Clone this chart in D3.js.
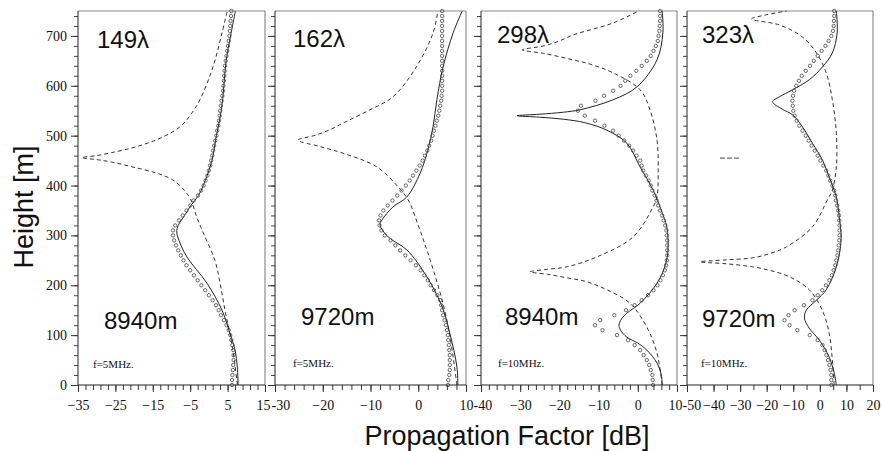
<!DOCTYPE html>
<html><head><meta charset="utf-8">
<script src="https://cdn.jsdelivr.net/npm/d3@7"></script>
<style>body{margin:0;background:#fff}svg{display:block}</style>
</head><body><svg id="c" width="882" height="451"></svg>
<script>
// ---------- DATA ----------
const panelTitles = ["149λ", "162λ", "298λ", "323λ"];
const rangeLabels = ["8940m", "9720m", "8940m", "9720m"];
const freqLabels = ["f=5MHz.", "f=5MHz.", "f=10MHz.", "f=10MHz."];
const xDomains = [[-35, 15], [-30, 10], [-40, 10], [-50, 20]];
const xTickLabels = [
  [-35, -25, -15, -5, 5, 15],
  [-30, -20, -10, 0, 10],
  [-40, -30, -20, -10, 0, 10],
  [-50, -40, -30, -20, -10, 0, 10, 20]
];
const xMinorStep = [2, 2, 2, 5];
const yTickLabels = [0, 100, 200, 300, 400, 500, 600, 700];
const yMinorStep = 20;
const heightMax = 750;

// [height m, propagation factor dB]
const p1Solid = [[0,7.8],[36,7.6],[70,7.0],[104,5.6],[150,3.5],[204,-0.5],[257,-5.9],[290,-8.0],[307,-8.6],[320,-8.2],[340,-6.5],[360,-4.8],[380,-2.8],[400,-1.5],[450,0.8],[500,2.0],[550,3.3],[600,4.0],[650,4.6],[700,5.8],[750,7.1]];
const p1Dashed = [[0,7.6],[50,6.8],[104,5.6],[150,4.3],[204,3.0],[250,1.6],[305,-1.5],[338,-3.3],[371,-4.8],[390,-6.5],[411,-9.6],[425,-14],[437,-20.3],[447,-26],[452,-30],[456,-34],[460,-30],[466,-26],[477,-19.8],[495,-13],[518,-7.7],[545,-4.6],[572,-2.4],[638,1.1],[706,3.5],[750,4.9]];
const p1Circles = [6.2,6.2,6.3,6.4,6.5,6.6,6.6,6.5,6.3,6.0,5.7,5.3,4.7,4.0,3.2,2.6,1.9,1.0,0.0,-1.0,-2.0,-3.0,-4.0,-5.0,-6.0,-6.8,-7.5,-8.2,-8.8,-9.3,-9.6,-9.6,-9.0,-8.0,-7.0,-6.0,-5.0,-4.1,-2.9,-2.1,-1.4,-0.9,-0.4,0.0,0.3,0.6,0.9,1.1,1.4,1.7,2.0,2.2,2.5,2.7,2.9,3.0,3.2,3.4,3.6,3.8,3.9,4.0,4.1,4.2,4.3,4.5,4.7,4.9,5.1,5.3,5.5,5.6,5.7,5.8,5.9,6.0];

const p2Solid = [[0,8.3],[36,8.1],[104,6.6],[157,5.0],[217,1.8],[271,-2.4],[297,-6.3],[321,-8.0],[331,-7.6],[357,-5.3],[377,-2.4],[425,0.4],[471,2.0],[518,3.1],[572,3.9],[638,5.2],[706,7.3],[750,9.2]];
const p2Dashed = [[0,8.1],[36,7.6],[70,7.1],[120,6.2],[170,5.0],[220,3.5],[271,1.8],[320,0.0],[371,-2.1],[397,-4.2],[437,-8.6],[465,-15.8],[478,-20.5],[491,-25.2],[501,-21.5],[512,-18.5],[525,-15.8],[550,-10.5],[578,-5.3],[638,-0.4],[706,3.1],[750,4.1]];
const p2Circles = [6.2,6.3,6.5,6.6,6.6,6.6,6.6,6.5,6.4,6.3,6.2,6.0,5.8,5.5,5.2,5.0,4.8,4.6,4.0,3.3,2.6,2.0,1.3,0.5,-0.5,-1.6,-2.7,-3.8,-4.8,-5.8,-7.0,-7.7,-8.1,-8.2,-7.9,-7.3,-6.4,-5.4,-4.4,-3.5,-2.6,-1.8,-1.1,-0.4,0.3,0.9,1.4,1.9,2.3,2.7,3.0,3.3,3.6,3.9,4.2,4.4,4.6,4.8,4.9,5.0,5.0,5.0,5.0,5.0,5.0,5.0,5.0,5.0,5.0,5.0,5.0,5.0,5.0,5.0,5.0,5.0];

const p3Solid = [[0,6.2],[20,6.0],[44,4.9],[70,2.3],[84,0],[96,-2.8],[110,-4.4],[120,-4.8],[132,-4.2],[144,-2.8],[164,0.6],[204,4.9],[240,7.0],[271,7.7],[317,7.4],[350,6.0],[391,3.9],[437,0.6],[485,-2.8],[511,-7.9],[526,-13.5],[533,-19],[537,-25],[540,-30.8],[543,-25],[547,-19],[552,-14.7],[572,-6.3],[598,-0.2],[652,4.9],[706,6.4],[750,6.2]];
const p3Dashed = [[0,6.2],[64,4.9],[116,2.3],[164,-2.0],[191,-7.9],[207,-13],[215,-18.1],[222,-23],[227,-27.5],[232,-23],[237,-18.1],[257,-10.4],[297,-1.2],[357,3.9],[377,4.9],[425,5.2],[491,4.9],[552,3.1],[592,0.6],[626,-6.3],[643,-12],[652,-16.5],[665,-24],[672,-29.5],[680,-24],[690,-20],[702,-16.5],[726,-6.3],[750,0.2]];
const p3Circles = [3.9,3.8,3.7,3.3,2.9,2.3,1.5,0.6,-0.8,-2.5,-5.3,-9.0,-10.9,-9.6,-6.0,-3.0,-0.8,1.0,2.6,4.0,5.0,5.8,6.4,6.9,7.2,7.4,7.5,7.5,7.5,7.5,7.4,7.3,7.0,6.6,6.2,5.7,5.2,4.8,4.3,3.7,3.3,2.8,2.1,1.4,1.0,0.6,-0.3,-1.2,-2.2,-3.5,-4.9,-6.3,-8.5,-10.9,-13.5,-15.3,-14.5,-10.8,-8.6,-6.3,-4.4,-3.2,-1.9,-0.4,1.0,2.3,3.3,4.0,4.6,5.1,5.3,5.5,5.6,5.7,5.7,5.7];

const p4Solid = [[0,6.2],[24,5.4],[56,3.5],[90,-0.2],[114,-4.0],[134,-5.8],[150,-5.1],[170,-1.3],[191,2.4],[237,6.2],[291,8.0],[337,7.3],[377,6.2],[417,3.5],[451,1.0],[485,-2.8],[518,-6.6],[542,-10.3],[553,-14.1],[568,-17.8],[578,-15.2],[592,-10.3],[612,-4.0],[638,1.0],[666,4.7],[706,6.5],[750,6.2]];
const p4Dashed = [[0,5.4],[50,4.7],[104,3.5],[150,0.9],[191,-4.0],[217,-11.4],[230,-19],[237,-25.3],[243,-35],[247,-45.1],[251,-35],[255,-25.3],[265,-18],[277,-12.6],[317,-2.8],[371,2.8],[391,4.7],[437,6.2],[505,6.2],[572,4.7],[626,2.4],[666,-1.3],[698,-6.6],[722,-15.2],[734,-25.7],[742,-20.5],[750,-12.5]];
const p4Circles = [4.3,4.3,4.3,4.0,3.6,3.1,2.5,1.8,1.0,-0.8,-3.8,-8.5,-11.4,-13.3,-11.8,-9.5,-6.0,-2.8,-0.8,0.9,2.3,3.6,4.5,5.2,5.8,6.2,6.6,6.9,7.1,7.3,7.4,7.4,7.4,7.3,7.2,6.9,6.5,6.1,5.8,5.4,4.7,3.9,3.2,2.4,1.3,0.2,-0.8,-1.9,-3.1,-4.2,-5.3,-6.5,-7.7,-8.7,-9.5,-10.0,-10.2,-10.3,-10.1,-9.7,-8.9,-7.9,-6.8,-5.3,-3.7,-2.3,-0.8,0.7,2.1,3.3,4.3,4.9,5.2,5.3,5.4,5.4];
const p4StrayDash = [[455,-37.6],[455,-30.2]];

const circleStep = 10; // circles sampled every 10 m of height

// ---------- LAYOUT ----------
const W = 882, H = 451;
const yTop = 11, yBottom = 385;
const panelX = [[78, 265], [275, 466], [481, 677], [687, 873]];
const titlePos = [[19, 48], [18, 47], [16, 43], [15, 43]];
const rangePos = [[26, 329], [26, 325], [24, 325], [15, 327]];
const freqPos = [[15, 368], [18, 367], [17, 367], [14, 367]];
// boundary tick labels: [first label start-x offset, last label end-x offset] (null = centred)
const edgeLabel = [[null, 5], [-4, 7], [-8, 5], [-5, null]];

const solids = [p1Solid, p2Solid, p3Solid, p4Solid];
const dashes = [p1Dashed, p2Dashed, p3Dashed, p4Dashed];
const circles = [p1Circles, p2Circles, p3Circles, p4Circles];

const svg = d3.select("#c");
const y = d3.scaleLinear().domain([0, heightMax]).range([yBottom, yTop]);
const serif = "'Liberation Serif','Times New Roman',serif";
const sans = "'Liberation Sans',Arial,sans-serif";

panelX.forEach((px, i) => {
  const x = d3.scaleLinear().domain(xDomains[i]).range(px);
  const g = svg.append("g");

  // frame (top and right)
  g.append("line").attr("x1", px[0]).attr("x2", px[1]).attr("y1", yTop).attr("y2", yTop)
    .attr("stroke", "#888").attr("stroke-width", 1);
  g.append("line").attr("x1", px[1]).attr("x2", px[1]).attr("y1", yTop).attr("y2", yBottom)
    .attr("stroke", "#777").attr("stroke-width", 1);

  // x axis: minor ticks
  const minor = d3.range(xDomains[i][0], xDomains[i][1] + 1e-9, xMinorStep[i]);
  g.append("g").attr("transform", `translate(0,${yBottom})`)
    .call(d3.axisBottom(x).tickValues(minor).tickSize(5).tickFormat(""))
    .call(s => s.select(".domain").remove())
    .call(s => s.selectAll("line").attr("stroke", "#333"));
  const labs = xTickLabels[i];
  const xAxis = d3.axisBottom(x).tickValues(labs).tickSize(7).tickPadding(8)
    .tickFormat(d => d < 0 ? "\u2212" + Math.abs(d) : String(d));
  const xa = g.append("g").attr("transform", `translate(0,${yBottom})`).call(xAxis)
    .call(s => s.select(".domain").attr("stroke", "#222").attr("d", `M${px[0]},0H${px[1]}`))
    .call(s => s.selectAll("line").attr("stroke", "#333"))
    .call(s => s.selectAll("text").attr("font-family", serif).attr("font-size", 14).attr("fill", "#111"));
  // squeeze labels at shared panel boundaries
  xa.selectAll(".tick text").each(function(d) {
    const t = d3.select(this);
    if (d === labs[0] && edgeLabel[i][0] !== null) {
      t.attr("text-anchor", "start").attr("x", edgeLabel[i][0]).text("-" + Math.abs(d));
    }
    if (d === labs[labs.length - 1] && edgeLabel[i][1] !== null) {
      t.attr("text-anchor", "end").attr("x", edgeLabel[i][1]);
    }
  });

  // y axis
  const yMinor = d3.range(0, heightMax + 1e-9, yMinorStep);
  g.append("g").attr("transform", `translate(${px[0]},0)`)
    .call(d3.axisLeft(y).tickValues(yMinor).tickSize(4).tickFormat(""))
    .call(s => s.select(".domain").remove())
    .call(s => s.selectAll("line").attr("stroke", "#444"));
  g.append("g").attr("transform", `translate(${px[0]},0)`)
    .call(d3.axisLeft(y).tickValues(yTickLabels).tickSize(7).tickPadding(4)
      .tickFormat(i === 0 ? d3.format("d") : ""))
    .call(s => s.select(".domain").attr("stroke", "#222").attr("d", `M0,${yBottom}V${yTop}`))
    .call(s => s.selectAll("line").attr("stroke", "#333"))
    .call(s => s.selectAll("text").attr("font-family", serif).attr("font-size", 14).attr("fill", "#111"));

  // curves
  const line = d3.line().x(d => x(d[1])).y(d => y(d[0])).curve(d3.curveCatmullRom.alpha(0.5));
  g.append("path").datum(dashes[i]).attr("d", line).attr("fill", "none")
    .attr("stroke", "#333").attr("stroke-width", 1).attr("stroke-dasharray", "4,3");
  g.append("path").datum(solids[i]).attr("d", line).attr("fill", "none")
    .attr("stroke", "#222").attr("stroke-width", 1);
  g.selectAll("circle.m").data(circles[i]).join("circle").attr("class", "m")
    .attr("cx", d => x(d)).attr("cy", (d, k) => y(k * circleStep)).attr("r", 1.7)
    .attr("fill", "none").attr("stroke", "#444").attr("stroke-width", 0.8);
  if (i === 3) {
    g.append("path").datum(p4StrayDash).attr("d", d3.line().x(d => x(d[1])).y(d => y(d[0])))
      .attr("stroke", "#444").attr("stroke-width", 1).attr("stroke-dasharray", "5,2");
  }

  // labels
  g.append("text").attr("x", px[0] + titlePos[i][0]).attr("y", titlePos[i][1])
    .attr("font-family", sans).attr("font-size", 24).attr("fill", "#111").text(panelTitles[i]);
  g.append("text").attr("x", px[0] + rangePos[i][0]).attr("y", rangePos[i][1])
    .attr("font-family", sans).attr("font-size", 24).attr("fill", "#111").text(rangeLabels[i]);
  g.append("text").attr("x", px[0] + freqPos[i][0]).attr("y", freqPos[i][1])
    .attr("font-family", serif).attr("font-size", 11).attr("fill", "#111").text(freqLabels[i]);
});

// axis titles
svg.append("text").attr("transform", "translate(33,207) rotate(-90)").attr("text-anchor", "middle")
  .attr("font-family", sans).attr("font-size", 27).attr("fill", "#111").text("Height [m]");
svg.append("text").attr("x", 507).attr("y", 445).attr("text-anchor", "middle")
  .attr("font-family", sans).attr("font-size", 27).attr("fill", "#111").text("Propagation Factor [dB]");
</script></body></html>
